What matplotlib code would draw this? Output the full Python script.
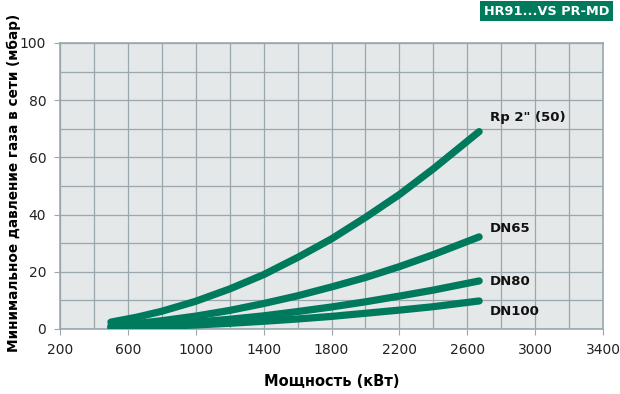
import matplotlib.pyplot as plt
import numpy as np

# power, kW
power = [500, 650, 800, 1000, 1200, 1400, 1600, 1800, 2000, 2200, 2400, 2670]
# min gas network pressure, mbar
rp2 = [2.4, 4.1, 6.2, 9.7, 14.0, 19.0, 25.0, 31.5, 39.0, 47.0, 56.0, 69.0]
dn65 = [1.1, 1.9, 2.9, 4.5, 6.5, 8.9, 11.6, 14.7, 18.0, 21.8, 26.0, 32.2]
dn80 = [0.6, 1.0, 1.5, 2.4, 3.4, 4.6, 6.1, 7.7, 9.5, 11.5, 13.6, 16.8]
dn100 = [0.35, 0.6, 0.9, 1.4, 2.0, 2.7, 3.5, 4.4, 5.5, 6.6, 7.8, 9.8]
series = [rp2, dn65, dn80, dn100]
names = ['Rp 2" (50)', 'DN65', 'DN80', 'DN100']
label_y = [74, 35, 16.5, 6.2]

green = '#007a5c'
grid_col = '#9aa8ae'

fig = plt.figure(figsize=(6.2, 3.94), dpi=100)
ax = fig.add_axes([0.0968, 0.165, 0.8758, 0.726])
ax.set_facecolor('#e5e8e8')

for vals in series:
    ax.plot(power, vals, color=green, lw=5.2, solid_capstyle='round', zorder=3)

for name, ly in zip(names, label_y):
    ax.text(2734, ly, name, fontsize=9.5, fontweight='bold', color='#111111',
            va='center', ha='left', zorder=4)

ax.set_xlim(200, 3400)
ax.set_ylim(0, 100)
ax.set_xticks(np.arange(200, 3401, 400))
ax.set_xticks(np.arange(200, 3401, 200), minor=True)
ax.set_yticks(np.arange(0, 101, 20))
ax.set_yticks(np.arange(0, 101, 10), minor=True)
ax.grid(which='both', color=grid_col, lw=0.9, zorder=1)
ax.set_axisbelow(True)
for s in ax.spines.values():
    s.set_color(grid_col)
    s.set_linewidth(1.2)
ax.tick_params(which='major', length=4, color=grid_col, labelsize=10,
               labelcolor='#222222', pad=6)
ax.tick_params(which='minor', length=0)

ax.set_xlabel('Мощность (кВт)', fontsize=10.5, fontweight='bold', labelpad=12)
fig.text(0.022, 0.535, 'Минимальное давление газа в сети (мбар)', rotation=90,
         fontsize=9.8, fontweight='bold', ha='center', va='center')

fig.text(0.881, 0.972, 'HR91...VS PR-MD', fontsize=9.3, fontweight='bold',
         color='white', ha='center', va='center',
         bbox=dict(boxstyle='square,pad=0.3', fc=green, ec='none'))

fig.savefig('out.png', dpi=100)
